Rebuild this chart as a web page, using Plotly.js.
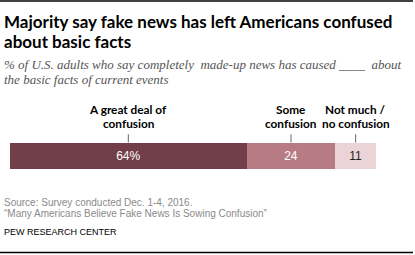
<!DOCTYPE html>
<html><head><meta charset="utf-8">
<script src="https://cdn.plot.ly/plotly-3.0.1.min.js"></script>
<style>html,body{margin:0;padding:0;background:#fff;}#chart{width:415px;height:255px;}</style>
</head><body><div id="chart"></div>
<script>
const categories = ["A great deal of<br>confusion", "Some<br>confusion", "Not much /<br>no confusion"];
const values = [64, 24, 11];
const valueLabels = ["64%", "24", "11"];
const colors = ["#723E49", "#B77B85", "#EBD3D7"];
const textColors = ["#ffffff", "#ffffff", "#222222"];

const W = 415, H = 255;
const L = 10, R = 39, T = 143, B = 86;
const pw = W - L - R, ph = H - T - B;
const px = p => (p - L) / pw;
const py = q => (H - B - q) / ph;

const LATO = "Lato, 'Liberation Sans', Arial, sans-serif";
const SANS = "'Liberation Sans', Arial, sans-serif";

const traces = values.map((v, i) => ({
  type: 'bar', orientation: 'h', y: ['a'], x: [v],
  marker: {color: colors[i], line: {width: 0}},
  text: [valueLabels[i]], textposition: 'inside', insidetextanchor: 'middle',
  textfont: {family: SANS, size: 12, color: textColors[i]},
  hoverinfo: 'none', width: 1
}));

const anns = [];
const shapes = [];
function txt(text, xPix, yPix, font, anchor) {
  anns.push({text: text, xref: 'paper', yref: 'paper', x: px(xPix), y: py(yPix),
    xanchor: anchor || 'left', yanchor: 'middle', showarrow: false, font: font, borderpad: 0});
}
const titleFont = {family: LATO, size: 17, color: '#000', weight: 'bold'};
txt("Majority say fake news has left Americans confused", 3, 21.5, titleFont);
txt("about basic facts", 3, 41, titleFont);
const subFont = {family: "'Liberation Serif', serif", size: 13, color: '#555', style: 'italic'};
txt("% of U.S. adults who say completely  made-up news has caused ____  about", 3, 64.5, subFont);
txt("the basic facts of current events", 3, 79.5, subFont);
const srcFont = {family: SANS, size: 10, color: '#8a8a8a'};
txt("Source: Survey conducted Dec. 1-4, 2016.", 3, 202, srcFont);
txt("\u201cMany Americans Believe Fake News Is Sowing Confusion\u201d", 3, 213.5, srcFont);
txt("PEW RESEARCH CENTER", 3, 231.5, {family: SANS, size: 9, color: '#000'});

// category labels and leader ticks
let cum = 0;
values.forEach((v, i) => {
  const mid = cum + v / 2;
  cum += v;
  const lines = categories[i].split('<br>');
  const lf = {family: LATO, size: 11.8, color: '#000', weight: 'bold'};
  anns.push({text: lines[0], xref: 'x', yref: 'paper', x: mid, y: py(109.5), xanchor: 'center', yanchor: 'middle',
    showarrow: false, font: lf, borderpad: 0});
  anns.push({text: lines[1], xref: 'x', yref: 'paper', x: mid, y: py(123), xanchor: 'center', yanchor: 'middle',
    showarrow: false, font: lf, borderpad: 0});
  shapes.push({type: 'line', xref: 'x', yref: 'paper', x0: mid, x1: mid, y0: py(134.3), y1: py(142.5),
    line: {color: '#666', width: 1}});
});
shapes.push({type: 'line', xref: 'paper', yref: 'paper', x0: px(0), x1: px(413), y0: py(1), y1: py(1), line: {color: '#000', width: 1.5}});
shapes.push({type: 'line', xref: 'paper', yref: 'paper', x0: px(0), x1: px(413), y0: py(252.5), y1: py(252.5), line: {color: '#000', width: 1.5}});

Plotly.newPlot('chart', traces, {
  width: W, height: H, barmode: 'stack', showlegend: false,
  margin: {l: L, r: R, t: T, b: B, pad: 0},
  paper_bgcolor: '#fff', plot_bgcolor: '#fff',
  xaxis: {range: [0, 99], visible: false, fixedrange: true},
  yaxis: {range: [-0.5, 0.5], visible: false, fixedrange: true},
  annotations: anns, shapes: shapes,
  uniformtext: {mode: 'show', minsize: 12}
}, {staticPlot: true, displayModeBar: false});
</script></body></html>
